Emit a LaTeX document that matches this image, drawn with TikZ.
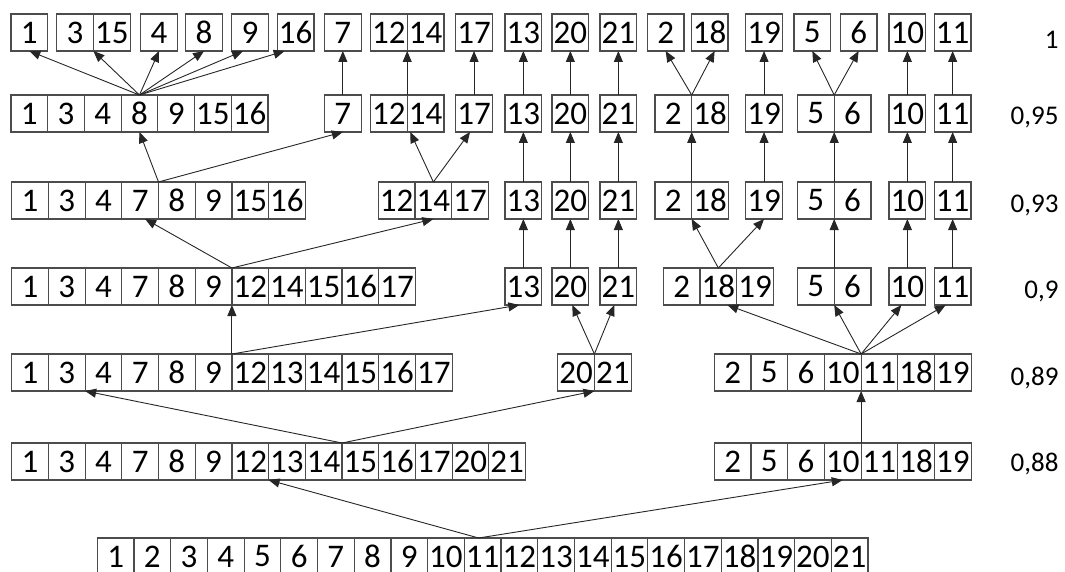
\documentclass[tikz,border=0pt]{standalone}
\usepackage{fontspec}
\setmainfont{Carlito}
\usetikzlibrary{arrows.meta}

% one group of joined cells: name, left x, top y, values
\newcommand\cellgroup[4]{%
  \foreach \v [count=\i] in {#4}
    \node[cell, anchor=north west] (#1-\i) at ({#2+(\i-1)*36.7}, #3) {\v};
}

\begin{document}
\begin{tikzpicture}[
  x=1pt, y=-1pt,
  cell/.style={draw=black!70, line width=1.2pt, minimum width=36.7pt, minimum height=37pt,
    inner sep=0pt, outer sep=0pt, font=\fontsize{33}{36}\selectfont},
  arr/.style={-{Triangle[length=11pt, width=9pt]}, line width=0.9pt, black!85},
  level/.style={anchor=base east, font=\fontsize{27}{30}\selectfont}
]
  \useasboundingbox (0,0) rectangle (1065,572);

  % similarity 1
  \cellgroup{A1}{11}{14}{1}
  \cellgroup{A3}{56.7}{14}{3,15}
  \cellgroup{A4}{140.7}{14}{4}
  \cellgroup{A8}{185.7}{14}{8}
  \cellgroup{A9}{231.7}{14}{9}
  \cellgroup{A16}{277.3}{14}{16}
  \cellgroup{A7}{324.5}{14}{7}
  \cellgroup{A12}{370.5}{14}{12,14}
  \cellgroup{A17}{455.7}{14}{17}
  \cellgroup{A13}{505}{14}{13}
  \cellgroup{A20}{552}{14}{20}
  \cellgroup{A21}{600}{14}{21}
  \cellgroup{A2}{647.3}{14}{2}
  \cellgroup{A18}{691.3}{14}{18}
  \cellgroup{A19}{745.7}{14}{19}
  \cellgroup{A5}{794}{14}{5}
  \cellgroup{A6}{840.3}{14}{6}
  \cellgroup{A10}{889}{14}{10}
  \cellgroup{A11}{934.3}{14}{11}

  % 0,95
  \cellgroup{B1}{11}{95}{1,3,4,8,9,15,16}
  \cellgroup{B7}{324.5}{95}{7}
  \cellgroup{B12}{370.5}{95}{12,14}
  \cellgroup{B17}{455.7}{95}{17}
  \cellgroup{B13}{505}{95}{13}
  \cellgroup{B20}{552}{95}{20}
  \cellgroup{B21}{600}{95}{21}
  \cellgroup{B2}{655}{95}{2,18}
  \cellgroup{B19}{745.7}{95}{19}
  \cellgroup{B5}{797.5}{95}{5,6}
  \cellgroup{B10}{889}{95}{10}
  \cellgroup{B11}{934.3}{95}{11}

  % 0,93
  \cellgroup{C1}{11.7}{182}{1,3,4,7,8,9,15,16}
  \cellgroup{C12}{378.3}{182}{12,14,17}
  \cellgroup{C13}{505}{182}{13}
  \cellgroup{C20}{552}{182}{20}
  \cellgroup{C21}{600}{182}{21}
  \cellgroup{C2}{655}{182}{2,18}
  \cellgroup{C19}{745.7}{182}{19}
  \cellgroup{C5}{797.5}{182}{5,6}
  \cellgroup{C10}{889}{182}{10}
  \cellgroup{C11}{934.3}{182}{11}

  % 0,9
  \cellgroup{D1}{11.7}{268}{1,3,4,7,8,9,12,14,15,16,17}
  \cellgroup{D13}{505}{268}{13}
  \cellgroup{D20}{552}{268}{20}
  \cellgroup{D21}{600}{268}{21}
  \cellgroup{D2}{663.3}{268}{2,18,19}
  \cellgroup{D5}{797.5}{268}{5,6}
  \cellgroup{D10}{889}{268}{10}
  \cellgroup{D11}{934.3}{268}{11}

  % 0,89
  \cellgroup{E1}{11.7}{354}{1,3,4,7,8,9,12,13,14,15,16,17}
  \cellgroup{E20}{557.7}{354}{20,21}
  \cellgroup{E2}{714.3}{354}{2,5,6,10,11,18,19}

  % 0,88
  \cellgroup{F1}{11.7}{443}{1,3,4,7,8,9,12,13,14,15,16,17,20,21}
  \cellgroup{F2}{714.3}{443}{2,5,6,10,11,18,19}

  % all objects
  \cellgroup{G1}{97.3}{538}{1,2,3,4,5,6,7,8,9,10,11,12,13,14,15,16,17,18,19,20,21}

  % levels
  \node[level] (lab1) at (1062,48.3) {1};
  \node[level] (lab95) at (1062,124.5) {0,95};
  \node[level] (lab93) at (1062,213) {0,93};
  \node[level] (lab90) at (1062,298) {0,9};
  \node[level] (lab89) at (1062,385) {0,89};
  \node[level] (lab88) at (1062,471.7) {0,88};

  % splits
  \draw[arr] ([xshift=-4pt]G1-11.north) -- (F1-7.south east);
  \draw[arr] ([xshift=-4pt]G1-11.north) -- (F2-4.south);

  \draw[arr] (F1-9.north east) -- (E1-2.south east);
  \draw[arr] (F1-9.north east) -- (E20-1.south east);
  \draw[arr] (F2-4.north east) -- (E2-4.south east);

  \draw[arr] (E1-6.north east) -- (D1-6.south east);
  \draw[arr] (E1-6.north east) -- ([xshift=-4pt]D13-1.south);
  \draw[arr] (E20-1.north east) -- ([xshift=2pt]D20-1.south);
  \draw[arr] (E20-1.north east) -- ([xshift=-4pt]D21-1.south);
  \draw[arr] (E2-4.north east) -- ([xshift=9pt]D2-2.south);
  \draw[arr] (E2-4.north east) -- (D5-1.south east);
  \draw[arr] (E2-4.north east) -- ([xshift=-6pt]D10-1.south);
  \draw[arr] (E2-4.north east) -- ([xshift=-7pt]D11-1.south);

  \draw[arr] (D1-6.north east) -- ([xshift=5pt]C1-4.south);
  \draw[arr] (D1-6.north east) -- (C12-2.south);
  \draw[arr] (D2-2.north) -- (C2-1.south east);
  \draw[arr] (D2-2.north) -- (C19-1.south);
  \draw[arr] (D5-1.north east) -- (C5-1.south east);

  \draw[arr] (C1-4.north east) -- (B1-4.south);
  \draw[arr] (C1-4.north east) -- (B7-1.south);
  \draw[arr] (C12-2.north) -- ([xshift=3pt]B12-1.south east);
  \draw[arr] (C12-2.north) -- ([xshift=-4pt]B17-1.south);
  \draw[arr] (C2-1.north east) -- (B2-1.south east);
  \draw[arr] (C5-1.north east) -- (B5-1.south east);

  \draw[arr] (B1-4.north) -- (A1-1.south);
  \draw[arr] (B1-4.north) -- (A3-1.south east);
  \draw[arr] (B1-4.north) -- (A4-1.south);
  \draw[arr] (B1-4.north) -- (A8-1.south);
  \draw[arr] (B1-4.north) -- ([xshift=-7pt]A9-1.south);
  \draw[arr] (B1-4.north) -- ([xshift=-11pt]A16-1.south);
  \draw[arr] (B7-1.north) -- (A7-1.south);
  \draw[arr] (B12-1.north east) -- (A12-1.south east);
  \draw[arr] (B2-1.north east) -- (A2-1.south);
  \draw[arr] (B2-1.north east) -- ([xshift=5pt]A18-1.south);
  \draw[arr] (B5-1.north east) -- (A5-1.south);
  \draw[arr] (B5-1.north east) -- (A6-1.south);

  % unchanged singletons
  \foreach \n in {13,20,21,10,11} {
    \draw[arr] (D\n-1.north) -- (C\n-1.south);
    \draw[arr] (C\n-1.north) -- (B\n-1.south);
    \draw[arr] (B\n-1.north) -- (A\n-1.south);
  }
  \draw[arr] (C19-1.north) -- (B19-1.south);
  \draw[arr] (B19-1.north) -- (A19-1.south);
  \draw[arr] (B17-1.north) -- (A17-1.south);
\end{tikzpicture}
\end{document}
